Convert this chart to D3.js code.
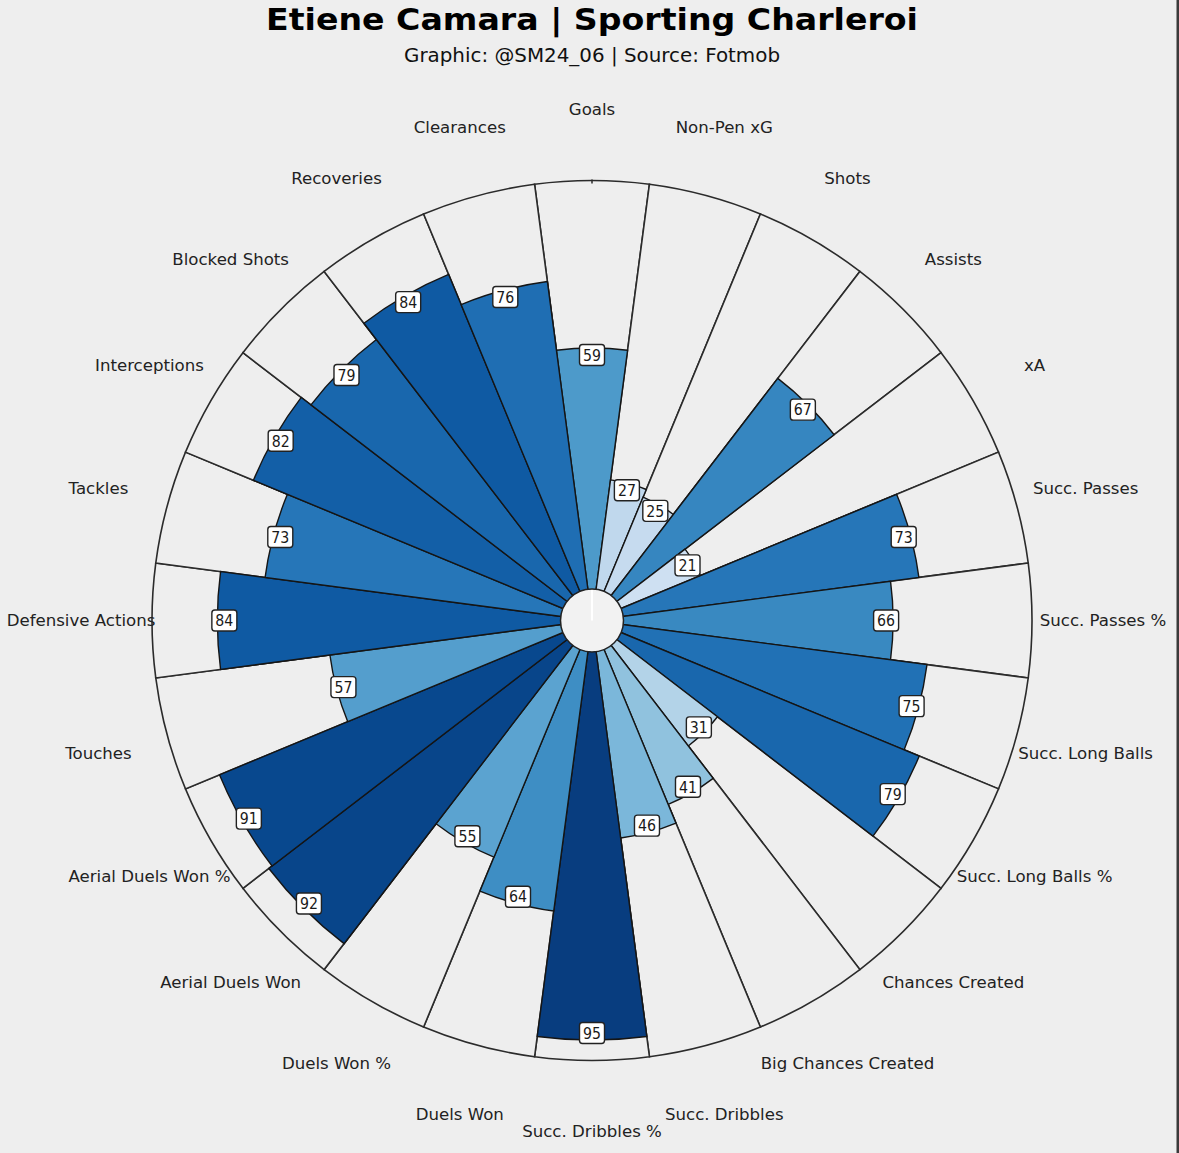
<!DOCTYPE html>
<html>
<head>
<meta charset="utf-8">
<script src="https://cdn.jsdelivr.net/npm/d3@7"></script>
<style>
  html, body { margin: 0; padding: 0; background: #eeeeee; }
  svg { display: block; }
</style>
</head>
<body>
<svg id="chart" width="1179" height="1153"></svg>
<script>
const categories = [
  "Goals", "Non-Pen xG", "Shots", "Assists", "xA", "Succ. Passes",
  "Succ. Passes %", "Succ. Long Balls", "Succ. Long Balls %", "Chances Created",
  "Big Chances Created", "Succ. Dribbles", "Succ. Dribbles %", "Duels Won",
  "Duels Won %", "Aerial Duels Won", "Aerial Duels Won %", "Touches",
  "Defensive Actions", "Tackles", "Interceptions", "Blocked Shots",
  "Recoveries", "Clearances"
];
const values = [59, 27, 25, 67, 21, 73, 66, 75, 79, 31, 41, 46, 95, 64, 55, 92, 91, 57, 84, 73, 82, 79, 84, 76];
const titleText = "Etiene Camara | Sporting Charleroi";
const subtitleText = "Graphic: @SM24_06 | Source: Fotmob";

const W = 1179, H = 1153;
const cx = 592, cy = 620.5;
const innerR = 31.5, outerR = 440, labelR = 511;

const svg = d3.select("#chart");
svg.append("rect").attr("width", W).attr("height", H).attr("fill", "#eeeeee");
svg.append("rect").attr("x", 1176.5).attr("y", 0).attr("width", 2.5).attr("height", H).attr("fill", "#3a3a3a");

// matplotlib Blues
const bluesStops = ["#f7fbff","#deebf7","#c6dbef","#9ecae1","#6baed6","#4292c6","#2171b5","#08519c","#08306b"];
const color = d3.scaleLinear()
  .domain(d3.range(bluesStops.length).map(i => i * 100 / (bluesStops.length - 1)))
  .range(bluesStops)
  .interpolate(d3.interpolateRgb);

const r = d3.scaleLinear().domain([0, 100]).range([innerR, outerR]);
const n = categories.length;
const step = 2 * Math.PI / n;
const angle = d3.scaleLinear().domain([0, n]).range([0, 2 * Math.PI]);

const g = svg.append("g").attr("transform", `translate(${cx},${cy})`);

const data = categories.map((c, i) => ({ cat: c, val: values[i], i }));

// background wedges
const bgArc = d3.arc()
  .innerRadius(0)
  .outerRadius(outerR)
  .startAngle(d => angle(d.i) - step / 2)
  .endAngle(d => angle(d.i) + step / 2);
g.selectAll("path.bg").data(data).enter().append("path")
  .attr("class", "bg")
  .attr("d", bgArc)
  .attr("fill", "#eeeeee")
  .attr("stroke", "#2b2b2b")
  .attr("stroke-width", 1.6);

// small tick at top of outer ring
g.append("line").attr("x1", 0).attr("x2", 0).attr("y1", -outerR - 1).attr("y2", -outerR + 3)
  .attr("stroke", "#2b2b2b").attr("stroke-width", 1.5);

// value bars
const barArc = d3.arc()
  .innerRadius(0)
  .outerRadius(d => r(d.val))
  .startAngle(d => angle(d.i) - step / 2)
  .endAngle(d => angle(d.i) + step / 2);
g.selectAll("path.bar").data(data).enter().append("path")
  .attr("class", "bar")
  .attr("d", barArc)
  .attr("fill", d => color(d.val))
  .attr("stroke", "#151515")
  .attr("stroke-width", 1.4);

// inner circle
g.append("circle").attr("r", innerR).attr("fill", "#f2f2f2").attr("stroke", "#222").attr("stroke-width", 1.5);
g.append("line").attr("x1", 0).attr("y1", 0).attr("x2", 0).attr("y2", -innerR + 1)
  .attr("stroke", "#ffffff").attr("stroke-width", 2);

// value labels
const vl = g.selectAll("g.vl").data(data).enter().append("g")
  .attr("class", "vl")
  .attr("transform", d => {
    const a = angle(d.i), rr = r(d.val) - 7;
    return `translate(${rr * Math.sin(a)},${-rr * Math.cos(a)})`;
  });
vl.append("rect")
  .attr("x", -12.5).attr("y", -10.5).attr("width", 25).attr("height", 21)
  .attr("rx", 3).attr("ry", 3)
  .attr("fill", "#ffffff").attr("stroke", "#222").attr("stroke-width", 1.4);
vl.append("text")
  .attr("text-anchor", "middle").attr("dy", "0.37em")
  .attr("font-family", "DejaVu Sans, sans-serif").attr("font-size", 15.5)
  .attr("textLength", 18).attr("lengthAdjust", "spacingAndGlyphs")
  .attr("fill", "#1a1a1a")
  .text(d => d.val);

// category labels
g.selectAll("text.cat").data(data).enter().append("text")
  .attr("class", "cat")
  .attr("x", d => labelR * Math.sin(angle(d.i)))
  .attr("y", d => -labelR * Math.cos(angle(d.i)))
  .attr("dy", "0.36em")
  .attr("text-anchor", "middle")
  .attr("font-family", "DejaVu Sans, sans-serif")
  .attr("font-size", 16.6)
  .attr("fill", "#222")
  .text(d => d.cat);

// titles
svg.append("text")
  .attr("x", cx).attr("y", 29.5)
  .attr("text-anchor", "middle")
  .attr("font-family", "DejaVu Sans, sans-serif")
  .attr("font-weight", "bold").attr("font-size", 29.5)
  .attr("textLength", 652).attr("lengthAdjust", "spacingAndGlyphs")
  .attr("fill", "#000")
  .text(titleText);
svg.append("text")
  .attr("x", cx).attr("y", 62)
  .attr("text-anchor", "middle")
  .attr("font-family", "DejaVu Sans, sans-serif")
  .attr("font-size", 20)
  .attr("textLength", 376).attr("lengthAdjust", "spacingAndGlyphs")
  .attr("fill", "#111")
  .text(subtitleText);
</script>
</body>
</html>
